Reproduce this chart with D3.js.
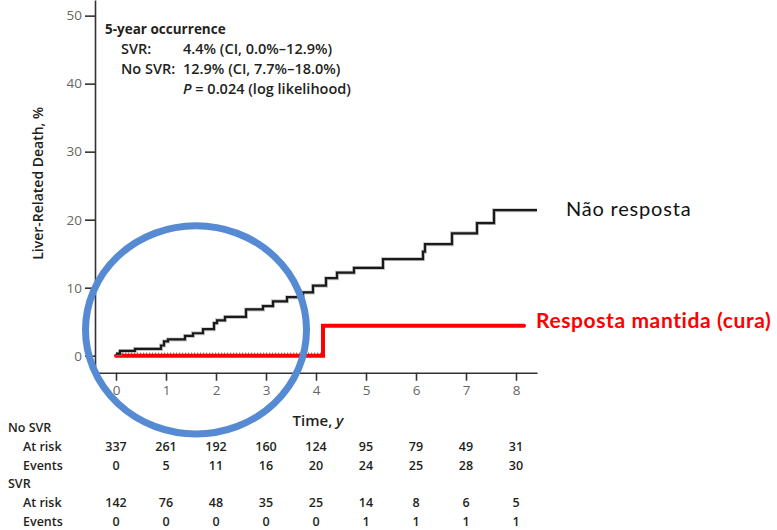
<!DOCTYPE html>
<html><head><meta charset="utf-8">
<script src="https://cdn.jsdelivr.net/npm/d3@7"></script>
<style>
body{margin:0;background:#fff}
svg{display:block}
text{font-family:"Open Sans","Noto Sans",sans-serif}
</style>
</head><body>
<svg id="chart" width="777" height="530"></svg>
<script>
// Axis ticks
const yearTicks = [0, 1, 2, 3, 4, 5, 6, 7, 8];
const pctTicks = [0, 10, 20, 30, 40, 50];

// Cumulative liver-related death (%), Kaplan–Meier step points
const noSvrTimes  = [0, 0.08, 0.38, 0.90, 0.96, 1.04, 1.38, 1.54, 1.74, 1.96, 2.02, 2.18, 2.60, 2.94, 3.14, 3.42, 3.74, 3.94, 4.20, 4.42, 4.76, 5.34, 6.14, 6.18, 6.72, 7.22, 7.56, 8.42];
const noSvrValues = [0.3, 0.7, 1.0, 1.5, 2.1, 2.4, 2.9, 3.3, 3.9, 4.8, 5.2, 5.7, 6.8, 7.3, 8.0, 8.6, 9.3, 10.3, 11.4, 12.2, 12.9, 14.2, 15.3, 16.4, 18.0, 19.5, 21.4, 21.4];
const svrTimes  = [0, 4.14, 8.16];
const svrValues = [0, 4.4, 4.4];

// Numbers at risk / events table
const riskGroups = ["No SVR", "SVR"];
const riskRows = ["At risk", "Events"];
const noSvrAtRisk = [337, 261, 192, 160, 124, 95, 79, 49, 31];
const noSvrEvents = [0, 5, 11, 16, 20, 24, 25, 28, 30];
const svrAtRisk = [142, 76, 48, 35, 25, 14, 8, 6, 5];
const svrEvents = [0, 0, 0, 0, 0, 1, 1, 1, 1];

// Annotation texts
const boxTitle = "5-year occurrence";
const boxLabels = ["SVR:", "No SVR:"];
const boxValues = ["4.4% (CI, 0.0%–12.9%)", "12.9% (CI, 7.7%–18.0%)"];
const seriesNames = ["Não resposta", "Resposta mantida (cura)"];

// Highlighted region in data units: [t0, t1] x [v0, v1]
const highlightT = [-0.61, 3.81];
const highlightV = [-11.5, 19.1];

const svg = d3.select("#chart");
const x = d3.scaleLinear().domain([-0.42, 8.42]).range([95, 537]);
const y = d3.scaleLinear().domain([-2.5, 52.3]).range([372.7, 0]);

const ink = "#231f20";

// Axes
const xAxis = svg.append("g").attr("transform", `translate(0,${y.range()[0]})`)
  .call(d3.axisBottom(x).tickValues(yearTicks).tickSize(8).tickSizeOuter(0).tickPadding(5));
const yAxis = svg.append("g").attr("transform", `translate(${x.range()[0]},0)`)
  .call(d3.axisLeft(y).tickValues(pctTicks).tickSize(10).tickSizeOuter(0).tickPadding(3));
[xAxis, yAxis].forEach(g => {
  g.select(".domain").attr("stroke", "#333").attr("stroke-width", 1.6);
  g.selectAll(".tick line").attr("stroke", "#333").attr("stroke-width", 1.6);
  g.selectAll(".tick text").attr("fill", "#666").attr("font-size", 13.5)
    .style("font-family", '"Open Sans",sans-serif');
});

// Axis titles
svg.append("text").attr("transform", `translate(43,${(y(-2.5) + y(52.3)) / 2 - 3}) rotate(-90)`)
  .attr("text-anchor", "middle").attr("font-size", 14).attr("font-weight", 600)
  .attr("fill", ink).text("Liver-Related Death, %");
svg.append("text").attr("x", (x.range()[0] + x.range()[1]) / 2 + 2).attr("y", 426)
  .attr("text-anchor", "middle").attr("font-size", 15).attr("font-weight", 600).attr("fill", ink)
  .call(t => { t.append("tspan").text("Time, "); t.append("tspan").attr("font-style", "italic").text("y"); });

// Curves
const toPts = (ts, vs) => ts.map((t, i) => [t, vs[i]]);
const step = d3.line().x(d => x(d[0])).y(d => y(d[1])).curve(d3.curveStepAfter);

const noSvr = toPts(noSvrTimes, noSvrValues);
const svr = toPts(svrTimes, svrValues);

// SVR dotted trace beneath the red line
svg.append("path").datum(svr.filter(d => d[1] === 0).concat([[svrTimes[1], 0]]))
  .attr("d", step).attr("fill", "none").attr("stroke", "#444").attr("stroke-width", 1)
  .attr("stroke-dasharray", "1.2,1.8").attr("transform", "translate(0,-2.5)");

svg.append("path").datum(svr).attr("d", step).attr("fill", "none")
  .attr("stroke", "#ff0000").attr("stroke-width", 4).attr("stroke-linecap", "round");

svg.append("path").datum(noSvr).attr("d", step).attr("fill", "none")
  .attr("stroke", "#999").attr("stroke-width", 4).attr("stroke-opacity", 0.55);
svg.append("path").datum(noSvr).attr("d", step).attr("fill", "none")
  .attr("stroke", "#1a1a1a").attr("stroke-width", 2.2);

// Annotation box
const ann = svg.append("g").attr("fill", ink).attr("font-size", 14.5);
ann.append("text").attr("x", 105).attr("y", 34).attr("font-size", 13.5).attr("font-weight", 700).text(boxTitle);
boxLabels.forEach((lab, i) => {
  ann.append("text").attr("x", 121).attr("y", 54 + i * 20).attr("font-weight", 600).text(lab);
  ann.append("text").attr("x", 183).attr("y", 54 + i * 20).attr("font-weight", 600).text(boxValues[i]);
});
ann.append("text").attr("x", 183).attr("y", 94).attr("font-weight", 600)
  .call(t => {
    t.append("tspan").attr("font-style", "italic").text("P");
    t.append("tspan").text(" = 0.024 (log likelihood)");
  });

// Series labels
svg.append("text").attr("x", 566).attr("y", 216).attr("font-size", 20).attr("letter-spacing", 0.8)
  .style("font-family", 'Lato,"Open Sans",sans-serif').attr("fill", "#111").text(seriesNames[0]);
svg.append("text").attr("x", 536).attr("y", 328).attr("font-size", 21).attr("font-weight", 700)
  .attr("letter-spacing", 0.6)
  .style("font-family", 'Lato,"Open Sans",sans-serif').attr("fill", "#ff0000").text(seriesNames[1]);

// Risk table
const tbl = svg.append("g").attr("fill", ink).attr("font-size", 12.5);
const tableData = [[noSvrAtRisk, noSvrEvents], [svrAtRisk, svrEvents]];
riskGroups.forEach((g, gi) => {
  const base = 432 + gi * 56.4;
  tbl.append("text").attr("x", 8).attr("y", base).attr("font-weight", 600).text(g);
  riskRows.forEach((r, ri) => {
    const yy = base + 18.8 + ri * 18.8;
    tbl.append("text").attr("x", 23).attr("y", yy).attr("font-weight", 600).text(r);
    tbl.selectAll(null).data(tableData[gi][ri]).enter().append("text")
      .attr("x", (d, i) => x(yearTicks[i])).attr("y", yy)
      .attr("text-anchor", "middle").attr("font-weight", 600).text(d => d);
  });
});

// Highlight ellipse
svg.append("ellipse")
  .attr("cx", (x(highlightT[0]) + x(highlightT[1])) / 2)
  .attr("cy", (y(highlightV[0]) + y(highlightV[1])) / 2)
  .attr("rx", Math.abs(x(highlightT[1]) - x(highlightT[0])) / 2)
  .attr("ry", Math.abs(y(highlightV[1]) - y(highlightV[0])) / 2)
  .attr("fill", "none").attr("stroke", "#568bd3").attr("stroke-width", 7);
</script>
</body></html>
